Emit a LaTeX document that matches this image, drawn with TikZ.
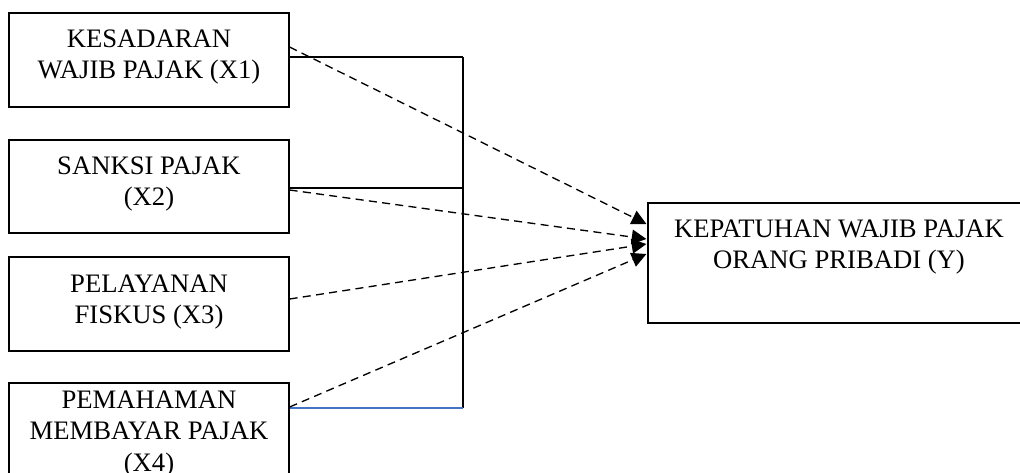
\documentclass[tikz,border=0pt]{standalone}
\usepackage{fontspec}
\setmainfont{Liberation Serif}
\usetikzlibrary{arrows.meta,calc}
\begin{document}
\begin{tikzpicture}[x=0.75pt,y=-0.75pt,
  box/.style={draw,line width=0.9pt,inner sep=0pt},
  lbl/.style={align=center,font=\fontsize{20}{23.5}\selectfont,inner sep=0pt},
  link/.style={line width=0.9pt},
  bluelink/.style={line width=0.9pt,draw=linkblue},
  dep/.style={line width=1pt,dash pattern=on 6pt off 4pt,-{Triangle[length=11pt,width=11pt]}}]
\definecolor{linkblue}{HTML}{4472C4}
\useasboundingbox (0,0) rectangle (1020,472);
% boxes
\node[box,minimum width=210pt,minimum height=70.5pt] (b1) at (149,60) {};
\node[box,minimum width=210pt,minimum height=69.75pt] (b2) at (149,186.5) {};
\node[box,minimum width=210pt,minimum height=70.5pt] (b3) at (149,304) {};
\node[box,minimum width=210pt,minimum height=75pt] (b4) at (149,433) {};
\node[box,minimum width=286.5pt,minimum height=90pt] (y) at (839,263) {};
% labels
\node[lbl] (l1) at (149,57) {KESADARAN\\WAJIB PAJAK (X1)};
\node[lbl] (l2) at (149,184) {SANKSI PAJAK\\(X2)};
\node[lbl] (l3) at (149,302) {PELAYANAN\\FISKUS (X3)};
\node[lbl] (l4) at (149,434) {PEMAHAMAN\\MEMBAYAR PAJAK\\(X4)};
\node[lbl] (ly) at (839,247) {KEPATUHAN WAJIB PAJAK\\ORANG PRIBADI (Y)};
% junction line
\coordinate (j1) at (463,57);
\coordinate (j2) at (463,188);
\coordinate (j4) at (463,408);
\draw[link] (j1) -- (j4);
\draw[link] (b1.east |- j1) -- (j1);
\draw[link] (b2.east |- j2) -- (j2);
\draw[bluelink] (b4.east |- j4) -- (j4);
% arrow targets
\coordinate (t1) at ($(y.west)+(-1,-39)$);
\coordinate (t2) at ($(y.west)+(-1,-24)$);
\coordinate (t3) at ($(y.west)+(-1,-19)$);
\coordinate (t4) at ($(y.west)+(-1,-9)$);
\draw[dep] ($(b1.east)+(0,-13)$) -- (t1);
\draw[dep] ($(b2.east)+(0,3.5)$) -- (t2);
\draw[dep] ($(b3.east)+(0,-5)$) -- (t3);
\draw[dep] ($(b4.east)+(0,-26)$) -- (t4);
\end{tikzpicture}
\end{document}
